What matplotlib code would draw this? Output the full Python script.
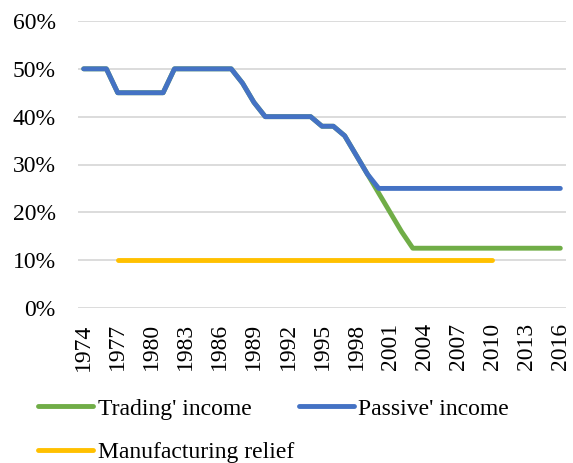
import numpy as np
import matplotlib
matplotlib.use('Agg')
import matplotlib.pyplot as plt
from matplotlib.ticker import PercentFormatter

plt.rcParams['font.family'] = ['Liberation Serif', 'DejaVu Serif']

years = np.arange(1974, 2017)

# corporation tax rates (%)
passive = [50, 50, 50, 45, 45, 45, 45, 45, 50, 50, 50, 50, 50, 50, 47, 43,
           40, 40, 40, 40, 40, 38, 38, 36, 32, 28] + [25]*17
trading = [50, 50, 50, 45, 45, 45, 45, 45, 50, 50, 50, 50, 50, 50, 47, 43,
           40, 40, 40, 40, 40, 38, 38, 36, 32, 28, 24, 20, 16] + [12.5]*14
manuf_years = np.arange(1977, 2011)
manuf = [10]*len(manuf_years)

labels = ["Trading' income", "Passive' income", "Manufacturing relief"]
colors = ['#70AD47', '#4472C4', '#FFC000']

fig = plt.figure(figsize=(5.73, 4.63), dpi=100)
ax = fig.add_axes([78/573, 1-308/463, 488/573, 287/463])

lw = 3.5
l1, = ax.plot(years, trading, color=colors[0], lw=lw, solid_capstyle='round',
              solid_joinstyle='round', label=labels[0])
l2, = ax.plot(years, passive, color=colors[1], lw=lw, solid_capstyle='round',
              solid_joinstyle='round', label=labels[1])
l3, = ax.plot(manuf_years, manuf, color=colors[2], lw=lw, solid_capstyle='round',
              solid_joinstyle='round', label=labels[2])

ax.set_xlim(1973.5, 2016.5)
ax.set_ylim(0, 60)
ax.set_yticks(np.arange(0, 61, 10))
ax.yaxis.set_major_formatter(PercentFormatter(decimals=0))
ax.set_xticks(np.arange(1974, 2017, 3))
ax.tick_params(axis='x', length=0, pad=11, labelsize=17, labelrotation=90)
ax.tick_params(axis='y', length=0, pad=16, labelsize=17)
ax.grid(axis='y', color='#D9D9D9', lw=1.3)
ax.set_axisbelow(True)
for s in ax.spines.values():
    s.set_visible(False)

fig.legend([l1, l3, l2], [labels[0], labels[2], labels[1]], ncol=2,
           loc='upper left', bbox_to_anchor=(38/573, 1-398/463),
           frameon=False, fontsize=17, handlelength=2.35, handletextpad=0.18,
           columnspacing=0.2, labelspacing=0.95, borderpad=0, borderaxespad=0)

fig.savefig('out.png', dpi=100)
